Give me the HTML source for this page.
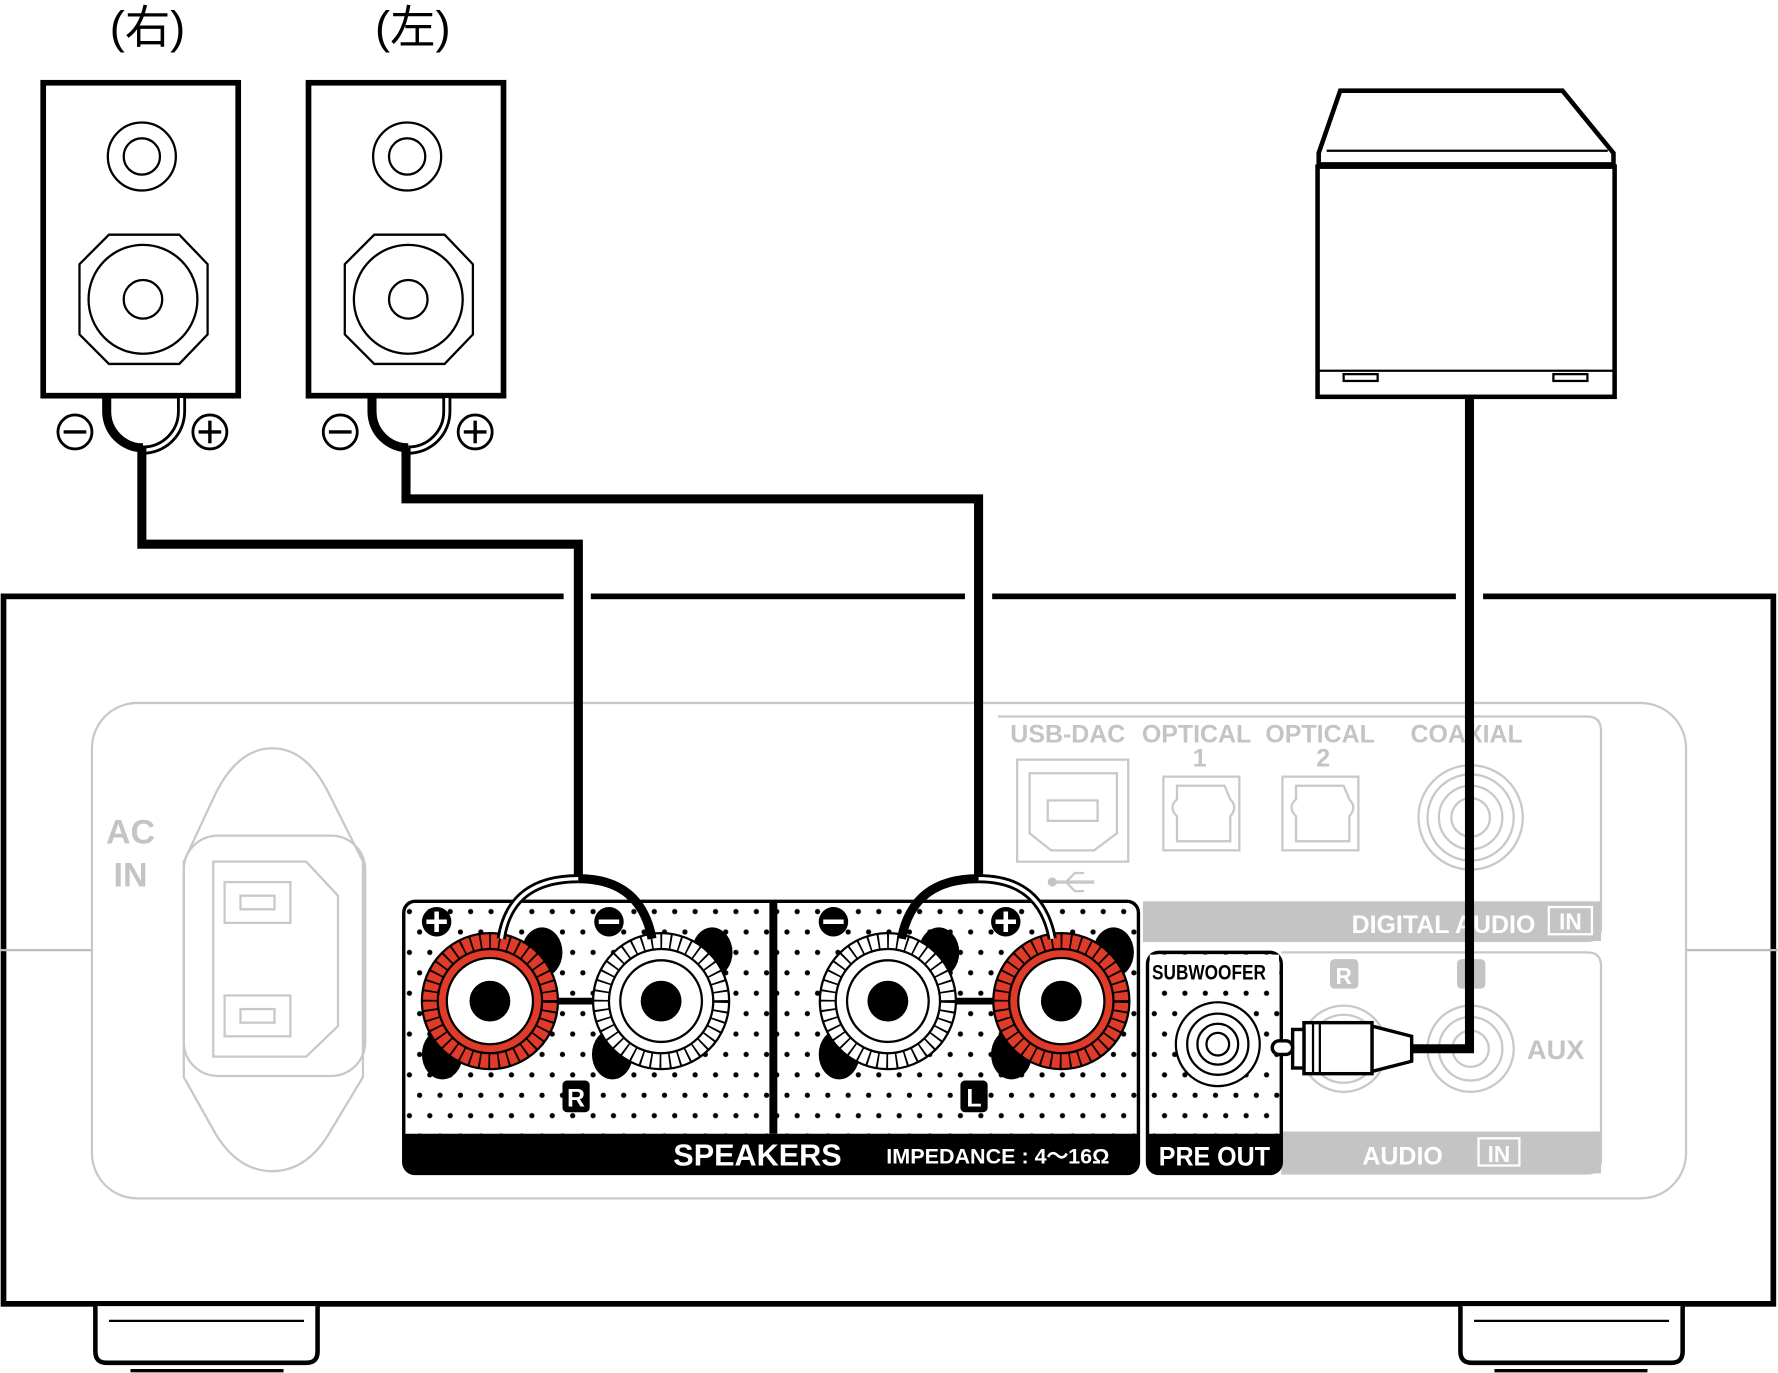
<!DOCTYPE html>
<html><head><meta charset="utf-8"><style>html,body{margin:0;padding:0;background:#fff}svg{display:block}</style></head>
<body>
<svg width="1778" height="1373" viewBox="0 0 1568 1211" xmlns="http://www.w3.org/2000/svg" font-family="Liberation Sans, sans-serif">
<defs>
<pattern id="dots" x="356" y="795" width="18" height="36" patternUnits="userSpaceOnUse">
<circle cx="5" cy="9" r="2.3" fill="#000"/><circle cx="14" cy="27" r="2.3" fill="#000"/>
</pattern>
<g id="spk">
<rect x="0" y="0" width="172" height="276" fill="#fff" stroke="#000" stroke-width="5"/>
<circle cx="87" cy="65" r="30" fill="none" stroke="#000" stroke-width="2"/>
<circle cx="87" cy="65" r="16" fill="none" stroke="#000" stroke-width="2"/>
<path d="M58 134 L120 134 L145 160 L145 222 L120 248 L58 248 L32 222 L32 160 Z" fill="none" stroke="#000" stroke-width="2"/>
<circle cx="88" cy="191" r="48" fill="none" stroke="#000" stroke-width="2"/>
<circle cx="88" cy="191" r="17" fill="none" stroke="#000" stroke-width="2"/>
<path d="M56 278 L56 290 A32 32 0 0 0 88 322" fill="none" stroke="#000" stroke-width="8"/>
<path d="M122 278 L122 290 A34 34 0 0 1 88 324" fill="none" stroke="#000" stroke-width="8"/>
<path d="M122 278 L122 290 A34 34 0 0 1 88 324" fill="none" stroke="#fff" stroke-width="3"/>
<circle cx="28" cy="308" r="15" fill="#fff" stroke="#000" stroke-width="2.5"/>
<line x1="18" y1="308" x2="38" y2="308" stroke="#000" stroke-width="3"/>
<circle cx="147" cy="308" r="15" fill="#fff" stroke="#000" stroke-width="2.5"/>
<line x1="137" y1="308" x2="157" y2="308" stroke="#000" stroke-width="3"/>
<line x1="147" y1="298" x2="147" y2="318" stroke="#000" stroke-width="3"/>
</g>
<g id="ticks">
<circle r="53" fill="none" stroke="#000" stroke-width="15" stroke-dasharray="1.6 6.7"/>
</g>
</defs>

<text x="130" y="38" font-size="40" text-anchor="middle" font-family="Liberation Sans, Noto Sans CJK JP, sans-serif">(右)</text>
<text x="364" y="38" font-size="40" text-anchor="middle" font-family="Liberation Sans, Noto Sans CJK JP, sans-serif">(左)</text>
<use href="#spk" x="38" y="73"/>
<use href="#spk" x="272" y="73"/>

<!-- source device -->
<path d="M1182 80 L1378 80 L1423 135 L1423 145 L1163 145 L1163 135 Z" fill="#fff" stroke="#000" stroke-width="4"/>
<line x1="1170" y1="133" x2="1418" y2="133" stroke="#000" stroke-width="2"/>
<rect x="1162" y="147" width="262" height="203" fill="#fff" stroke="#000" stroke-width="4"/>
<line x1="1162" y1="327" x2="1424" y2="327" stroke="#000" stroke-width="2"/>
<rect x="1185" y="330" width="30" height="6" fill="none" stroke="#000" stroke-width="2"/>
<rect x="1370" y="330" width="30" height="6" fill="none" stroke="#000" stroke-width="2"/>

<!-- amp body -->
<rect x="3" y="526" width="1561" height="624" fill="#fff" stroke="#000" stroke-width="5"/>
<line x1="0" y1="838" x2="82" y2="838" stroke="#bbb" stroke-width="2"/>
<line x1="1486" y1="838" x2="1568" y2="838" stroke="#bbb" stroke-width="2"/>
<rect x="81" y="620" width="1406" height="437" rx="40" fill="none" stroke="#c8c8c8" stroke-width="2"/>
<!-- feet -->
<path d="M84 1152 L84 1192 Q84 1202 94 1202 L270 1202 Q280 1202 280 1192 L280 1152" fill="#fff" stroke="#000" stroke-width="4"/>
<line x1="96" y1="1165" x2="268" y2="1165" stroke="#000" stroke-width="2"/>
<line x1="115" y1="1209" x2="250" y2="1209" stroke="#000" stroke-width="3"/>
<path d="M1288 1152 L1288 1192 Q1288 1202 1298 1202 L1474 1202 Q1484 1202 1484 1192 L1484 1152" fill="#fff" stroke="#000" stroke-width="4"/>
<line x1="1300" y1="1165" x2="1472" y2="1165" stroke="#000" stroke-width="2"/>
<line x1="1318" y1="1209" x2="1453" y2="1209" stroke="#000" stroke-width="3"/>

<!-- AC IN -->
<g fill="#c4c4c4" font-weight="bold" font-size="30"><text x="115" y="744" text-anchor="middle">AC</text><text x="115" y="782" text-anchor="middle">IN</text></g>
<path d="M240 660 Q210 660 190 700 L162 760 L162 950 L190 1000 Q210 1033 240 1033 Q270 1033 290 1000 L320 950 L320 760 L290 700 Q270 660 240 660 Z" fill="none" stroke="#c8c8c8" stroke-width="2"/>
<rect x="162" y="737" width="160" height="212" rx="30" fill="none" stroke="#c8c8c8" stroke-width="2"/>
<path d="M188 760 L270 760 L298 790 L298 905 L270 932 L188 932 Z" fill="none" stroke="#c8c8c8" stroke-width="2"/>
<rect x="198" y="778" width="58" height="36" fill="none" stroke="#c8c8c8" stroke-width="2"/><rect x="212" y="790" width="30" height="12" fill="none" stroke="#c8c8c8" stroke-width="2"/>
<rect x="198" y="878" width="58" height="36" fill="none" stroke="#c8c8c8" stroke-width="2"/><rect x="212" y="890" width="30" height="12" fill="none" stroke="#c8c8c8" stroke-width="2"/>

<!-- digital audio -->
<path d="M880 632 L1400 632 Q1412 632 1412 645 L1412 818 Q1412 830 1400 830 L1008 830" fill="none" stroke="#c8c8c8" stroke-width="2"/>
<rect x="1008" y="795" width="404" height="35" fill="#c4c4c4"/>
<g fill="#c4c4c4" font-weight="bold" font-size="22">
<text x="891" y="655">USB-DAC</text><text x="1007" y="655">OPTICAL</text><text x="1116" y="655">OPTICAL</text><text x="1244" y="655">COAXIAL</text>
<text x="1058" y="676" text-anchor="middle">1</text><text x="1167" y="676" text-anchor="middle">2</text>
</g>
<g fill="#fff" font-weight="bold" font-size="22"><text x="1192" y="823">DIGITAL AUDIO</text></g>
<rect x="1366" y="800" width="38" height="24" fill="none" stroke="#fff" stroke-width="2"/>
<text x="1385" y="820" fill="#fff" font-size="20" font-weight="bold" text-anchor="middle">IN</text>
<g fill="none" stroke="#c8c8c8" stroke-width="2">
<rect x="897" y="670" width="98" height="90"/>
<path d="M908 682 L985 682 L985 735 L965 750 L927 750 L908 735 Z"/>
<rect x="924" y="706" width="44" height="18"/>
<rect x="1026" y="685" width="67" height="65"/><path d="M1038 693 L1080 693 L1085 705 Q1092 712 1085 720 L1085 742 L1038 742 L1038 720 Q1030 712 1038 705 Z"/>
<rect x="1131" y="685" width="67" height="65"/><path d="M1143 693 L1185 693 L1190 705 Q1197 712 1190 720 L1190 742 L1143 742 L1143 720 Q1135 712 1143 705 Z"/>
<circle cx="1297" cy="721" r="46"/><circle cx="1297" cy="721" r="38"/><circle cx="1297" cy="721" r="28"/><circle cx="1297" cy="721" r="17"/>
<line x1="930" y1="778" x2="965" y2="778" stroke-width="3"/>
<path d="M940 778 L948 770 L956 770 M940 778 L948 786 L956 786" stroke-width="2"/>
</g>
<circle cx="928" cy="778" r="4" fill="#c4c4c4"/>

<!-- audio in -->
<path d="M1130 840 L1400 840 Q1412 840 1412 852 L1412 1022 Q1412 1035 1400 1035 L1130 1035" fill="none" stroke="#c8c8c8" stroke-width="2"/>
<rect x="1130" y="998" width="282" height="37" fill="#c4c4c4"/>
<text x="1237" y="1027" fill="#fff" font-size="22" font-weight="bold" text-anchor="middle">AUDIO</text>
<rect x="1304" y="1004" width="36" height="24" fill="none" stroke="#fff" stroke-width="2"/>
<text x="1322" y="1025" fill="#fff" font-size="20" font-weight="bold" text-anchor="middle">IN</text>
<rect x="1173" y="846" width="25" height="26" rx="4" fill="#c4c4c4"/><text x="1185" y="868" fill="#fff" font-size="20" font-weight="bold" text-anchor="middle">R</text>
<rect x="1285" y="846" width="25" height="26" rx="4" fill="#c4c4c4"/>
<text x="1372" y="934" fill="#c4c4c4" font-size="24" font-weight="bold" text-anchor="middle">AUX</text>
<g fill="none" stroke="#c8c8c8" stroke-width="2">
<circle cx="1185" cy="925" r="38"/><circle cx="1185" cy="925" r="30"/>
<circle cx="1297" cy="925" r="38"/><circle cx="1297" cy="925" r="28"/><circle cx="1297" cy="925" r="16"/>
</g>

<!-- subwoofer -->
<rect x="1012" y="840" width="118" height="195" rx="10" fill="url(#dots)" stroke="#000" stroke-width="3"/>
<rect x="1014" y="842" width="114" height="30" fill="#fff"/>
<text x="1016" y="864" font-size="19" font-weight="bold" transform="scale(0.8,1)" transform-origin="1016 864">SUBWOOFER</text>
<circle cx="1074" cy="921" r="37" fill="#fff" stroke="#000" stroke-width="2"/>
<circle cx="1074" cy="921" r="27" fill="none" stroke="#000" stroke-width="2"/>
<circle cx="1074" cy="921" r="18" fill="none" stroke="#000" stroke-width="2"/>
<circle cx="1074" cy="921" r="10" fill="none" stroke="#000" stroke-width="2"/>
<path d="M1012 1000 L1130 1000 L1130 1025 Q1130 1035 1120 1035 L1022 1035 Q1012 1035 1012 1025 Z" fill="#000"/>
<text x="1071" y="1028" fill="#fff" font-size="24" font-weight="bold" text-anchor="middle" transform="scale(0.92,1)" transform-origin="1071 1028">PRE OUT</text>

<!-- speakers panel -->
<rect x="356" y="795" width="648" height="240" rx="10" fill="url(#dots)" stroke="#000" stroke-width="3"/>
<line x1="682" y1="795" x2="682" y2="1000" stroke="#000" stroke-width="7"/>
<path d="M356 1000 L1004 1000 L1004 1025 Q1004 1035 994 1035 L366 1035 Q356 1035 356 1025 Z" fill="#000"/>
<text x="668" y="1028" fill="#fff" font-size="27" font-weight="bold" text-anchor="middle">SPEAKERS</text>
<text x="880" y="1026" fill="#fff" font-size="19" font-weight="bold" text-anchor="middle">IMPEDANCE : 4～16Ω</text>
<!-- tabs -->
<g fill="#000">
<ellipse cx="478" cy="840" rx="18" ry="22"/><ellipse cx="390" cy="930" rx="18" ry="22"/>
<ellipse cx="628" cy="840" rx="18" ry="22"/><ellipse cx="540" cy="930" rx="18" ry="22"/>
<ellipse cx="828" cy="840" rx="18" ry="22"/><ellipse cx="740" cy="930" rx="18" ry="22"/>
<ellipse cx="982" cy="840" rx="18" ry="22"/><ellipse cx="892" cy="930" rx="18" ry="22"/>
</g>
<line x1="432" y1="883" x2="583" y2="883" stroke="#000" stroke-width="6"/>
<line x1="783" y1="883" x2="936" y2="883" stroke="#000" stroke-width="6"/>
<!-- terminals -->
<g stroke="#000" stroke-width="2">
<circle cx="432" cy="883" r="60" fill="#e03a28"/><circle cx="583" cy="883" r="60" fill="#fff"/>
<circle cx="783" cy="883" r="60" fill="#fff"/><circle cx="936" cy="883" r="60" fill="#e03a28"/>
</g>
<g transform="translate(432,883)"><use href="#ticks"/></g>
<g transform="translate(583,883)"><use href="#ticks"/></g>
<g transform="translate(783,883)"><use href="#ticks"/></g>
<g transform="translate(936,883)"><use href="#ticks"/></g>
<g stroke="#000" stroke-width="2">
<circle cx="432" cy="883" r="46" fill="#e03a28"/><circle cx="583" cy="883" r="46" fill="#fff"/>
<circle cx="783" cy="883" r="46" fill="#fff"/><circle cx="936" cy="883" r="46" fill="#e03a28"/>
</g>
<g fill="#fff" stroke="#000" stroke-width="2">
<circle cx="432" cy="883" r="38"/><circle cx="583" cy="883" r="36"/><circle cx="783" cy="883" r="36"/><circle cx="936" cy="883" r="38"/>
</g>
<g fill="#000"><circle cx="432" cy="883" r="18"/><circle cx="583" cy="883" r="18"/><circle cx="783" cy="883" r="18"/><circle cx="936" cy="883" r="18"/></g>
<!-- +/- badges -->
<g><circle cx="385" cy="813" r="13" fill="#000"/><path d="M376 813 H394 M385 804 V822" stroke="#fff" stroke-width="4"/>
<circle cx="537" cy="813" r="13" fill="#000"/><path d="M528 813 H546" stroke="#fff" stroke-width="4"/>
<circle cx="735" cy="813" r="13" fill="#000"/><path d="M726 813 H744" stroke="#fff" stroke-width="4"/>
<circle cx="887" cy="813" r="13" fill="#000"/><path d="M878 813 H896 M887 804 V822" stroke="#fff" stroke-width="4"/></g>
<rect x="496" y="953" width="24" height="28" rx="4" fill="#000"/><text x="508" y="976" fill="#fff" font-size="22" font-weight="bold" text-anchor="middle">R</text>
<rect x="847" y="953" width="24" height="28" rx="4" fill="#000"/><text x="859" y="976" fill="#fff" font-size="22" font-weight="bold" text-anchor="middle">L</text>

<!-- top-edge gaps -->
<rect x="497" y="521" width="24" height="10" fill="#fff"/>
<rect x="851" y="521" width="24" height="10" fill="#fff"/>
<rect x="1284" y="521" width="24" height="10" fill="#fff"/>

<!-- speaker wires -->
<path d="M125 395 L125 480 L510 480 L510 775" fill="none" stroke="#000" stroke-width="8"/>
<path d="M358 395 L358 440 L863 440 L863 775" fill="none" stroke="#000" stroke-width="8"/>
<path d="M442 828 Q450 775 510 775" fill="none" stroke="#000" stroke-width="8"/>
<path d="M442 828 Q450 775 510 775" fill="none" stroke="#fff" stroke-width="3"/>
<path d="M510 775 Q565 775 575 828" fill="none" stroke="#000" stroke-width="8"/>
<path d="M795 828 Q805 775 863 775" fill="none" stroke="#000" stroke-width="8"/>
<path d="M863 775 Q918 775 928 828" fill="none" stroke="#000" stroke-width="8"/>
<path d="M863 775 Q918 775 928 828" fill="none" stroke="#fff" stroke-width="3"/>

<!-- RCA cable -->
<path d="M1296 350 L1296 925 L1245 925" fill="none" stroke="#000" stroke-width="8"/>
<path d="M1210 905 L1245 914 L1245 936 L1210 945 Z" fill="#fff" stroke="#000" stroke-width="3"/>
<rect x="1150" y="902" width="60" height="45" fill="#fff" stroke="#000" stroke-width="3"/>
<line x1="1158" y1="902" x2="1158" y2="947" stroke="#000" stroke-width="2"/>
<line x1="1164" y1="902" x2="1164" y2="947" stroke="#000" stroke-width="2"/>
<rect x="1140" y="908" width="10" height="34" fill="#fff" stroke="#000" stroke-width="3"/>
<rect x="1122" y="918" width="18" height="12" rx="6" fill="#fff" stroke="#000" stroke-width="3"/>
</svg>
</body></html>
